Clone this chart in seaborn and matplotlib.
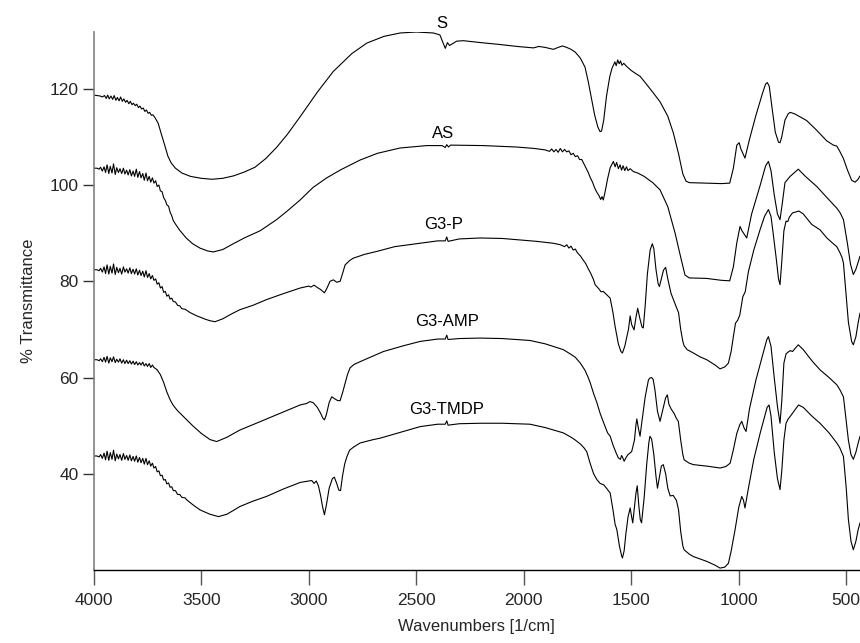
import matplotlib
matplotlib.use("Agg")
import matplotlib.pyplot as plt
import seaborn as sns
import pandas as pd

# ---- FTIR spectra: wavenumber [1/cm] and % transmittance (curves offset vertically) ----
s_wn = [4000, 3985, 3970, 3960, 3950, 3942, 3935, 3928, 3920, 3912, 3905, 3897, 3890, 3882, 3875,
        3867, 3860, 3852, 3845, 3837, 3830, 3822, 3815, 3807, 3800, 3792, 3785, 3777, 3770, 3762,
        3755, 3747, 3740, 3732, 3725, 3715, 3700, 3685, 3670, 3655, 3640, 3620, 3590, 3550, 3500,
        3450, 3400, 3350, 3300, 3250, 3200, 3150, 3100, 3040, 2960, 2886, 2800, 2730, 2650, 2575,
        2500, 2420, 2390, 2375, 2365, 2355, 2345, 2330, 2312, 2281, 2200, 2110, 2030, 1955, 1930,
        1900, 1862, 1840, 1820, 1800, 1780, 1760, 1737, 1715, 1700, 1685, 1670, 1655, 1645, 1638,
        1628, 1615, 1600, 1590, 1583, 1576, 1570, 1563, 1556, 1550, 1543, 1535, 1520, 1500, 1480,
        1459, 1430, 1400, 1366, 1330, 1304, 1280, 1260, 1245, 1230, 1150, 1080, 1042, 1025, 1009,
        998, 990, 971, 950, 920, 890, 875, 867, 858, 845, 830, 815, 808, 800, 785,
        770, 761, 740, 720, 684, 640, 591, 560, 544, 530, 513, 495, 475, 459, 445, 436]
s_t = [118.7, 118.6, 118.5, 118.3, 118.6, 118.0, 118.7, 117.9, 118.5, 117.8, 118.6, 117.6, 118.2, 117.5, 118.3,
       117.4, 117.9, 117.2, 117.6, 116.9, 117.4, 116.7, 117.0, 116.5, 116.8, 116.1, 116.4, 115.8, 116.0, 115.3,
       115.6, 114.9, 115.1, 114.5, 114.6, 114.0, 112.8, 110.5, 108.3, 106.0, 104.6, 103.5, 102.5, 101.8, 101.4,
       101.2, 101.4, 101.9, 102.7, 103.7, 105.5, 107.8, 110.5, 114.2, 119.3, 123.6, 127.3, 129.5, 130.9, 131.6,
       131.8, 131.6, 131.2, 129.5, 128.4, 129.6, 129.0, 129.4, 129.9, 130.0, 129.6, 129.2, 128.8, 128.5, 128.8,
       128.6, 128.2, 128.6, 128.9, 128.6, 128.2, 127.6, 126.4, 124.5, 121.5, 118.0, 114.5, 112.0, 111.1, 111.2,
       113.5, 118.5, 122.5, 124.2, 124.9, 125.6, 124.8, 126.0, 125.2, 125.8, 124.9, 125.3, 124.6, 123.8, 123.2,
       122.6, 121.0, 119.3, 117.3, 114.3, 110.8, 106.5, 102.3, 100.8, 100.5, 100.4, 100.3, 100.4, 103.5, 108.3,
       108.8, 107.5, 105.6, 109.5, 114.5, 119.0, 121.0, 121.3, 120.5, 116.0, 111.0, 108.9, 108.8, 110.0, 113.5,
       114.8, 115.1, 114.8, 114.3, 113.4, 111.5, 109.2, 108.3, 108.1, 107.0, 105.5, 103.2, 101.0, 100.6, 101.2, 101.9]

as_wn = [4000, 3985, 3975, 3968, 3960, 3952, 3945, 3938, 3930, 3923, 3915, 3908, 3900, 3893, 3885,
         3878, 3870, 3862, 3855, 3847, 3840, 3832, 3825, 3817, 3810, 3802, 3795, 3787, 3780, 3772,
         3765, 3757, 3750, 3742, 3735, 3727, 3720, 3712, 3705, 3697, 3690, 3682, 3675, 3667, 3660,
         3652, 3645, 3637, 3630, 3620, 3600, 3570, 3540, 3506, 3470, 3444, 3400, 3351, 3300, 3226,
         3150, 3100, 3040, 2980, 2916, 2850, 2761, 2680, 2575, 2451, 2380, 2365, 2358, 2350, 2340,
         2188, 2033, 1950, 1900, 1880, 1870, 1860, 1850, 1840, 1830, 1820, 1810, 1800, 1790, 1780,
         1770, 1760, 1750, 1740, 1730, 1720, 1710, 1700, 1690, 1680, 1670, 1660, 1650, 1642, 1636,
         1630, 1622, 1610, 1598, 1590, 1583, 1575, 1568, 1560, 1552, 1545, 1538, 1530, 1522, 1515,
         1505, 1490, 1470, 1440, 1400, 1366, 1330, 1296, 1270, 1250, 1230, 1150, 1080, 1042, 1025,
         1009, 994, 985, 963, 940, 900, 875, 862, 850, 835, 820, 808, 798, 785, 761,
         723, 690, 637, 590, 544, 528, 513, 495, 480, 467, 455, 436]
as_t = [103.5, 103.5, 103.3, 103.7, 102.9, 103.8, 102.6, 104.2, 102.4, 103.9, 102.5, 104.4, 102.2, 103.6, 102.6,
        103.4, 102.4, 103.5, 102.3, 103.1, 102.1, 103.2, 101.9, 102.9, 101.8, 103.3, 101.6, 102.8, 101.5, 102.4,
        101.0, 102.5, 100.9, 101.8, 100.6, 101.5, 100.4, 100.9, 99.7, 100.0, 98.8, 98.6, 97.4, 96.8, 95.9,
        95.6, 94.4, 93.6, 92.6, 91.9, 90.6, 89.0, 87.8, 86.9, 86.3, 86.1, 86.6, 87.8, 89.0, 90.5,
        92.8, 94.6, 96.9, 99.5, 101.5, 103.2, 105.2, 106.6, 107.7, 108.2, 108.2, 107.8, 108.4, 107.9, 108.3,
        108.2, 107.9, 107.6, 107.3, 107.0, 107.5, 106.9, 107.4, 106.8, 107.6, 106.9, 107.4, 106.9, 107.1, 106.3,
        106.6, 105.9, 106.1, 105.3, 105.3, 104.4, 103.5, 102.6, 101.5, 100.6, 99.4, 98.5, 97.8, 97.0, 97.6,
        96.9, 98.5, 101.3, 103.6, 104.3, 104.9, 103.8, 104.7, 103.4, 104.2, 103.1, 104.0, 103.0, 103.8, 103.0,
        103.4, 102.8, 102.5, 101.8, 100.5, 99.0, 95.5, 90.0, 85.0, 81.3, 80.7, 80.6, 80.2, 80.1, 83.0,
        88.0, 91.4, 90.5, 89.0, 94.0, 100.0, 104.0, 104.9, 103.0, 98.0, 94.0, 92.8, 96.0, 100.5, 101.8,
        103.3, 101.8, 99.7, 97.4, 95.2, 94.2, 92.8, 88.0, 83.5, 81.4, 82.5, 85.2]

g3p_wn = [4000, 3985, 3975, 3968, 3960, 3952, 3945, 3938, 3930, 3923, 3915, 3908, 3900, 3893, 3885,
          3878, 3870, 3862, 3855, 3847, 3840, 3832, 3825, 3817, 3810, 3802, 3795, 3787, 3780, 3772,
          3765, 3757, 3750, 3742, 3735, 3727, 3720, 3712, 3705, 3697, 3690, 3682, 3675, 3667, 3660,
          3652, 3645, 3637, 3630, 3620, 3610, 3600, 3590, 3575, 3552, 3520, 3480, 3459, 3436, 3400,
          3360, 3320, 3260, 3196, 3120, 3040, 3000, 2990, 2975, 2960, 2945, 2927, 2915, 2901, 2885,
          2870, 2854, 2840, 2831, 2810, 2793, 2740, 2684, 2600, 2482, 2400, 2365, 2358, 2352, 2300,
          2203, 2100, 2017, 1940, 1862, 1830, 1810, 1800, 1790, 1780, 1770, 1760, 1750, 1737, 1725,
          1712, 1700, 1690, 1676, 1668, 1660, 1650, 1640, 1630, 1614, 1598, 1585, 1575, 1560, 1548,
          1541, 1530, 1520, 1513, 1505, 1498, 1487, 1478, 1470, 1460, 1450, 1444, 1435, 1425, 1412,
          1402, 1395, 1385, 1375, 1369, 1360, 1350, 1340, 1330, 1315, 1304, 1290, 1280, 1270, 1260,
          1254, 1240, 1211, 1180, 1149, 1110, 1087, 1065, 1048, 1035, 1025, 1015, 1005, 995, 981,
          970, 955, 930, 901, 880, 862, 850, 840, 825, 815, 808, 800, 790, 780, 772,
          765, 750, 720, 700, 660, 622, 590, 560, 544, 530, 520, 513, 500, 490, 475,
          467, 455, 445, 436]
g3p_t = [82.4, 82.4, 82.2, 82.7, 81.9, 83.0, 81.6, 83.4, 81.5, 83.1, 81.7, 83.6, 81.4, 82.9, 81.8,
         82.7, 81.5, 83.0, 81.9, 82.6, 81.7, 82.8, 81.6, 82.5, 81.5, 82.6, 81.3, 82.3, 81.2, 82.1,
         80.9, 82.2, 80.8, 81.6, 80.5, 81.2, 80.2, 80.5, 79.4, 79.7, 78.6, 78.9, 77.7, 77.9, 76.9,
         77.2, 76.3, 76.5, 75.8, 75.7, 75.0, 74.9, 74.3, 74.2, 73.5, 72.8, 72.1, 71.8, 71.6, 72.2,
         73.2, 74.1, 75.0, 76.2, 77.4, 78.6, 79.0, 78.8, 79.2, 78.7, 78.3, 77.6, 78.6, 80.0, 80.3,
         79.8, 80.0, 82.0, 83.4, 84.3, 84.8, 85.6, 86.2, 87.2, 87.9, 88.4, 88.4, 89.2, 88.3, 88.8,
         89.0, 88.9, 88.6, 88.3, 87.9, 87.6, 87.2, 87.6, 86.9, 87.3, 86.5, 86.7, 85.9, 85.3, 84.5,
         83.7, 82.6, 81.8, 80.4, 79.3, 78.9, 78.4, 77.8, 77.9, 77.2, 76.5, 73.5, 70.6, 67.0, 65.4,
         65.1, 66.5, 68.5, 70.0, 72.8, 71.0, 69.9, 72.5, 74.4, 72.3, 70.5, 70.3, 75.0, 81.5, 86.5,
         87.8, 86.8, 82.5, 79.5, 78.9, 80.5, 82.3, 82.9, 80.5, 77.5, 76.2, 74.6, 73.5, 70.0, 67.5,
         66.6, 65.8, 65.1, 64.3, 63.7, 62.6, 61.8, 62.2, 63.0, 65.5, 68.5, 71.3, 71.9, 73.0, 76.8,
         77.8, 82.0, 86.5, 90.7, 93.5, 94.9, 93.5, 90.0, 84.5, 80.5, 79.3, 84.0, 90.5, 92.5, 92.4,
         93.3, 94.2, 94.6, 94.0, 91.8, 90.7, 89.0, 87.8, 87.2, 86.0, 85.0, 83.8, 77.0, 71.5, 67.5,
         66.8, 68.5, 71.3, 73.4]

g3amp_wn = [4000, 3985, 3975, 3968, 3960, 3952, 3945, 3938, 3930, 3923, 3915, 3908, 3900, 3893, 3885,
            3878, 3870, 3862, 3855, 3847, 3840, 3832, 3825, 3817, 3810, 3802, 3795, 3787, 3780, 3772,
            3765, 3757, 3750, 3742, 3735, 3727, 3720, 3705, 3690, 3675, 3660, 3645, 3630, 3610, 3583,
            3540, 3500, 3459, 3428, 3380, 3320, 3260, 3196, 3120, 3040, 3010, 2995, 2980, 2960, 2945,
            2935, 2927, 2918, 2905, 2893, 2880, 2865, 2854, 2843, 2831, 2820, 2808, 2790, 2761, 2700,
            2653, 2560, 2482, 2400, 2365, 2358, 2352, 2300, 2203, 2100, 1971, 1900, 1816, 1780, 1760,
            1737, 1715, 1700, 1690, 1676, 1660, 1645, 1630, 1610, 1598, 1585, 1570, 1560, 1550, 1545,
            1540, 1533, 1525, 1515, 1498, 1485, 1478, 1474, 1467, 1459, 1450, 1435, 1420, 1413, 1405,
            1398, 1390, 1378, 1366, 1355, 1340, 1332, 1325, 1315, 1300, 1290, 1281, 1270, 1260, 1254,
            1230, 1211, 1150, 1087, 1060, 1040, 1025, 1009, 995, 986, 975, 966, 950, 920, 890,
            870, 862, 850, 835, 820, 808, 800, 790, 780, 770, 760, 750, 735, 723, 700,
            660, 622, 580, 544, 530, 513, 500, 490, 478, 467, 455, 445, 436]
g3amp_t = [63.7, 63.7, 63.5, 63.9, 63.3, 64.2, 63.2, 64.4, 63.0, 64.1, 63.3, 64.3, 63.1, 63.8, 63.2,
           63.9, 63.0, 63.7, 62.9, 63.6, 62.9, 63.5, 62.8, 63.4, 62.7, 63.3, 62.6, 63.1, 62.6, 63.2,
           62.4, 62.9, 62.3, 62.9, 62.1, 62.6, 62.1, 61.6, 60.6, 59.0, 57.0, 55.4, 54.2, 53.1, 51.9,
           50.0, 48.4, 47.1, 46.7, 47.6, 49.1, 50.2, 51.4, 52.8, 54.3, 54.6, 55.0, 54.8, 53.8, 52.6,
           51.6, 51.2, 52.3, 54.8, 56.0, 55.6, 55.2, 55.2, 56.8, 58.8, 60.6, 62.0, 62.7, 63.3, 64.5,
           65.4, 66.6, 67.5, 68.0, 68.0, 68.8, 67.9, 68.1, 68.2, 68.1, 67.7, 67.0, 65.8, 64.8, 64.2,
           63.0, 61.5, 60.0, 58.8, 56.8, 54.8, 52.6, 50.8, 48.5, 47.8, 46.0, 44.3, 43.3, 43.0, 43.8,
           43.4, 42.6, 43.3, 44.0, 44.6, 47.0, 50.2, 51.4, 49.5, 47.8, 51.0, 56.0, 59.5, 59.9, 60.0,
           59.6, 57.5, 53.0, 50.9, 53.0, 55.8, 56.4, 54.5, 53.5, 52.5, 51.5, 50.9, 47.0, 44.0, 42.9,
           42.2, 41.9, 41.6, 41.2, 41.5, 42.2, 45.0, 48.4, 50.2, 50.9, 49.5, 48.8, 53.5, 59.5, 64.5,
           67.8, 68.5, 66.5, 60.0, 54.0, 50.5, 55.0, 63.0, 64.9, 65.3, 65.6, 65.4, 66.2, 66.8, 65.8,
           63.5, 61.6, 60.0, 58.5, 57.5, 56.0, 51.0, 47.0, 44.0, 43.0, 44.5, 46.3, 47.8]

g3tmdp_wn = [4000, 3985, 3975, 3968, 3960, 3952, 3945, 3938, 3930, 3923, 3915, 3908, 3900, 3893, 3885,
             3878, 3870, 3862, 3855, 3847, 3840, 3832, 3825, 3817, 3810, 3802, 3795, 3787, 3780, 3772,
             3765, 3757, 3750, 3742, 3735, 3727, 3720, 3712, 3705, 3697, 3690, 3682, 3675, 3667, 3660,
             3652, 3645, 3637, 3630, 3620, 3610, 3600, 3590, 3575, 3568, 3540, 3506, 3460, 3420, 3380,
             3320, 3260, 3196, 3120, 3040, 3000, 2986, 2975, 2965, 2955, 2945, 2935, 2927, 2918, 2905,
             2890, 2881, 2870, 2860, 2852, 2843, 2833, 2823, 2810, 2790, 2761, 2700, 2668, 2560, 2482,
             2400, 2365, 2358, 2352, 2300, 2203, 2100, 1971, 1900, 1816, 1780, 1760, 1737, 1720, 1707,
             1690, 1675, 1660, 1645, 1628, 1615, 1598, 1585, 1575, 1567, 1555, 1545, 1541, 1533, 1525,
             1515, 1505, 1498, 1493, 1485, 1478, 1472, 1465, 1458, 1452, 1440, 1428, 1418, 1413, 1405,
             1395, 1385, 1378, 1370, 1360, 1351, 1340, 1330, 1319, 1305, 1290, 1280, 1270, 1260, 1254,
             1230, 1211, 1149, 1110, 1087, 1065, 1048, 1035, 1017, 1000, 986, 978, 971, 955, 930,
             900, 880, 868, 859, 850, 835, 820, 808, 800, 790, 780, 770, 761, 740, 722,
             700, 660, 622, 580, 544, 530, 513, 500, 490, 478, 467, 455, 445, 436]
g3tmdp_t = [43.7, 43.7, 43.5, 44.0, 43.2, 44.3, 42.9, 44.7, 42.8, 44.4, 43.0, 44.9, 42.7, 44.1, 43.1,
            44.0, 42.8, 44.2, 43.0, 43.8, 42.8, 43.9, 42.7, 43.6, 42.6, 43.7, 42.4, 43.4, 42.3, 43.2,
            42.0, 43.2, 41.9, 42.7, 41.6, 42.2, 41.2, 41.5, 40.4, 40.6, 39.6, 39.7, 38.7, 38.8, 37.9,
            38.1, 37.2, 37.3, 36.5, 36.5, 35.7, 35.7, 35.1, 35.0, 34.6, 33.6, 32.5, 31.6, 31.1, 31.6,
            33.2, 34.3, 35.3, 36.8, 38.2, 38.5, 38.6, 38.0, 38.5, 37.5, 35.5, 33.0, 31.5, 33.5, 37.0,
            39.0, 39.3, 38.0, 36.6, 36.5, 39.5, 42.0, 43.5, 44.9, 45.6, 46.4, 47.1, 47.4, 48.8, 49.8,
            50.3, 50.3, 51.0, 50.1, 50.4, 50.5, 50.5, 50.3, 49.6, 48.5, 47.6, 47.0, 46.2, 45.4, 44.6,
            42.0, 40.0, 38.8, 38.0, 37.7, 37.0, 36.0, 32.5, 29.5, 28.4, 25.0, 23.0, 22.5, 24.0, 27.5,
            31.0, 32.9, 31.0, 29.8, 33.0, 36.0, 37.5, 33.5, 30.5, 29.8, 35.0, 42.0, 46.5, 47.8, 47.2,
            44.0, 39.5, 37.0, 39.0, 41.6, 41.9, 40.0, 37.0, 35.4, 35.5, 34.5, 32.5, 28.0, 25.0, 24.2,
            23.3, 22.8, 21.8, 21.0, 20.4, 20.6, 21.4, 24.0, 28.4, 33.0, 35.3, 34.5, 32.9, 37.0, 43.0,
            48.5, 51.8, 53.8, 54.3, 52.0, 44.5, 39.0, 36.7, 40.5, 47.0, 50.5, 51.4, 51.9, 53.2, 54.3,
            53.8, 52.0, 50.5, 48.5, 46.4, 45.4, 43.6, 37.0, 30.5, 26.0, 24.2, 26.0, 28.3, 29.8]

names = ["S", "AS", "G3-P", "G3-AMP", "G3-TMDP"]
label_wn = [2382, 2374, 2374, 2358, 2358]
label_t = [133.6, 110.8, 91.7, 71.6, 53.4]
x_ticks = [4000, 3500, 3000, 2500, 2000, 1500, 1000, 500]
y_ticks = [40, 60, 80, 100, 120]

spectra = {
    "S": (s_wn, s_t),
    "AS": (as_wn, as_t),
    "G3-P": (g3p_wn, g3p_t),
    "G3-AMP": (g3amp_wn, g3amp_t),
    "G3-TMDP": (g3tmdp_wn, g3tmdp_t),
}
frames = []
for name in names:
    wn, t = spectra[name]
    frames.append(pd.DataFrame({"wn": wn, "T": t, "sample": name, "order": range(len(wn))}))
df = pd.concat(frames, ignore_index=True)

sns.set_theme(style="ticks")
plt.rcParams["font.family"] = ["Liberation Sans", "DejaVu Sans"]

fig = plt.figure(figsize=(8.6, 6.43), dpi=100)
ax = fig.add_axes([0.109, 0.1135, 0.891, 0.8367])

sns.lineplot(data=df, x="wn", y="T", units="sample", estimator=None, sort=False,
             color="black", linewidth=0.8, ax=ax, legend=False)

for name, xw, yt in zip(names, label_wn, label_t):
    ax.text(xw, yt, name, ha="center", va="center", fontsize=12, color="black", clip_on=False)

ax.set_xlim(4000, 436)
ax.set_ylim(20, 131.8)
ax.set_xticks(x_ticks)
ax.set_xticklabels([str(v) for v in x_ticks])
ax.set_yticks(y_ticks)
ax.set_yticklabels([str(v) for v in y_ticks])

ax.set_xlabel("Wavenumbers [1/cm]", fontsize=12, labelpad=8)
ax.set_ylabel("% Transmittance", fontsize=12, labelpad=10)

for side in ("top", "right"):
    ax.spines[side].set_visible(False)
ax.spines["left"].set_color("#808080")
ax.spines["left"].set_linewidth(1.2)
ax.spines["bottom"].set_color("black")
ax.spines["bottom"].set_linewidth(1.0)
ax.tick_params(axis="x", direction="out", length=10.5, width=1.0, color="#555555",
               labelsize=12.5, pad=6)
ax.tick_params(axis="y", direction="out", length=8, width=1.0, color="#333333",
               labelsize=12.5, pad=3)

fig.savefig("out.png", dpi=100)
